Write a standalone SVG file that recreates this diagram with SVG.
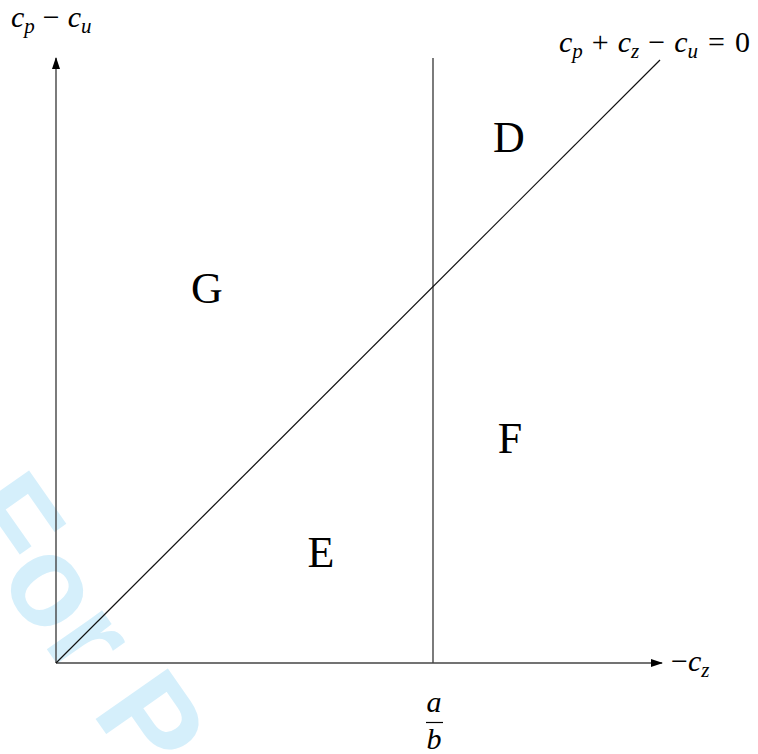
<svg xmlns="http://www.w3.org/2000/svg" width="758" height="754" viewBox="0 0 758 754">
<style>
.math{font-family:"Liberation Serif","DejaVu Serif",serif;font-style:italic;font-size:30px;fill:#000}
.op{font-style:normal}
.sub{font-size:21px}
.region{font-family:"Liberation Serif","DejaVu Serif",serif;font-size:44px;fill:#000;text-anchor:middle}
.axis{stroke:#444;stroke-width:1.4;fill:none}
.line{stroke:#111;stroke-width:1.2;fill:none}
</style>
<defs>
<marker id="arr" markerWidth="12" markerHeight="8" refX="11" refY="4" orient="auto" markerUnits="userSpaceOnUse">
<path d="M0,0 L12,4 L0,8 Z" fill="#000"/>
</marker>
</defs>
<rect width="758" height="754" fill="#fff"/>
<g id="watermark">
<text x="-48" y="514" transform="rotate(55 -48 514)" font-family="Liberation Sans,Arial,sans-serif" font-weight="bold" font-size="128" fill="#d5effb">For Peer Review</text>
</g>
<g id="connectors">
<line class="axis" x1="56" y1="663" x2="56" y2="58" marker-end="url(#arr)"/>
<line class="axis" x1="56" y1="663" x2="662" y2="663" marker-end="url(#arr)"/>
<line class="axis" x1="433" y1="58" x2="433" y2="663"/>
<line class="line" x1="56" y1="663" x2="660" y2="60"/>
</g>
<g id="ylabel"><text class="math" x="11" y="27">c<tspan class="sub" dy="6">p</tspan><tspan class="op" dy="-6" dx="8">−</tspan><tspan dx="8">c</tspan><tspan class="sub" dy="6">u</tspan></text></g>
<g id="linelabel"><text class="math" x="559" y="52">c<tspan class="sub" dy="6">p</tspan><tspan class="op" dy="-6" dx="9">+</tspan><tspan dx="9">c</tspan><tspan class="sub" dy="6">z</tspan><tspan class="op" dy="-6" dx="9">−</tspan><tspan dx="9">c</tspan><tspan class="sub" dy="6">u</tspan><tspan class="op" dy="-6" dx="10">=</tspan><tspan class="op" dx="10">0</tspan></text></g>
<g id="xlabel"><text class="math" x="671" y="671"><tspan class="op">−</tspan>c<tspan class="sub" dy="6">z</tspan></text></g>
<g id="tick">
<text class="math" x="434" y="712" text-anchor="middle">a</text>
<line x1="426" y1="722.5" x2="443" y2="722.5" stroke="#000" stroke-width="1.2"/>
<text class="math" x="434" y="749" text-anchor="middle">b</text>
</g>
<g id="D"><text class="region" x="509" y="152">D</text></g>
<g id="G"><text class="region" x="207" y="303">G</text></g>
<g id="F"><text class="region" x="510" y="453">F</text></g>
<g id="E"><text class="region" x="321" y="567">E</text></g>
</svg>
